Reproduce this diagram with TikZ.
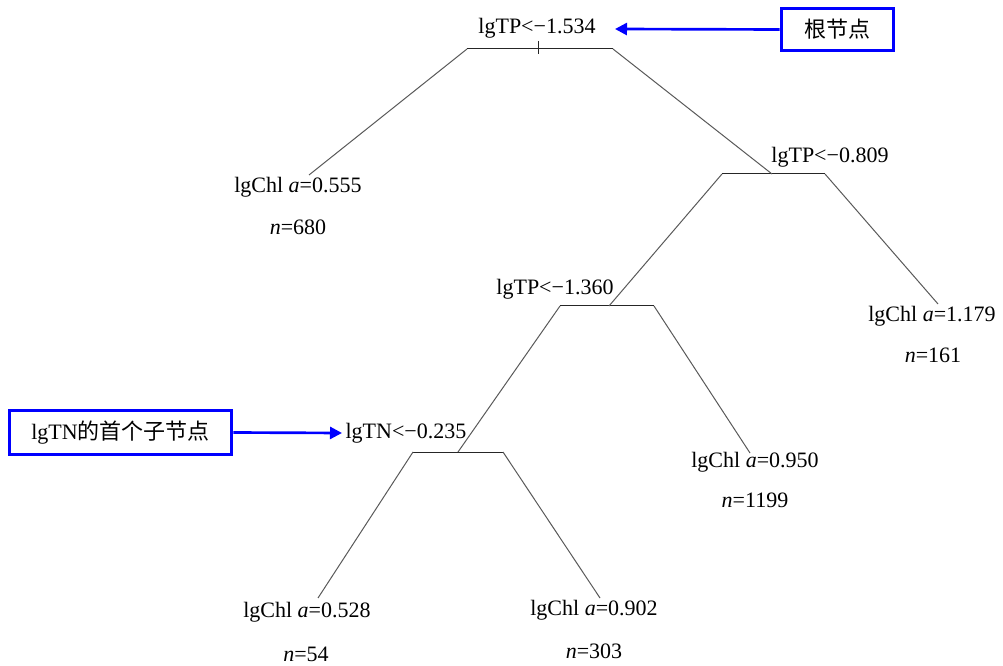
\documentclass[tikz,border=0pt]{standalone}
\usepackage{fontspec}
\setmainfont{Liberation Serif}
\newfontfamily\cjk{Noto Sans CJK SC}
\usetikzlibrary{arrows.meta}

\begin{document}
\begin{tikzpicture}[x=0.75pt,y=-0.75pt]
  \useasboundingbox (0,0) rectangle (1003,666);
  \tikzstyle{txt}=[inner sep=1pt,font=\fontsize{16.5}{19.8}\selectfont]
  \tikzstyle{branch}=[draw=black!65,line width=0.75pt]
  \tikzstyle{bar}=[draw=black!85,line width=0.75pt]
  \tikzstyle{notebox}=[draw=blue,line width=2.25pt,inner sep=0pt,font=\fontsize{16.5}{19.8}\selectfont]
  \tikzstyle{notearrow}=[draw=blue,line width=2pt,-{Triangle[length=9pt,width=9pt]}]
  % splits
  \node[txt] (S1) at (537,28) {lgTP<−1.534};
  \node[txt] (S2) at (830,157) {lgTP<−0.809};
  \node[txt] (S3) at (555,289) {lgTP<−1.360};
  \node[txt] (S4) at (406,433) {lgTN<−0.235};
  \coordinate (S1l) at (467,49);
  \coordinate (S1r) at (613,49);
  \coordinate (S1t) at (538,41);
  \coordinate (S1b) at (538,54);
  \coordinate (S2l) at (722,174);
  \coordinate (S2r) at (825,174);
  \coordinate (S2m) at (772,174);
  \coordinate (S3l) at (560,306);
  \coordinate (S3r) at (654,306);
  \coordinate (S3m) at (609,306);
  \coordinate (S4l) at (413,452);
  \coordinate (S4r) at (503,452);
  \coordinate (S4m) at (458,452);
  % leaves
  \node[txt] (L1) at (298,187) {lgChl \textit{a}=0.555};
  \node[txt] (N1) at (298,227) {\textit{n}=680};
  \node[txt] (L2) at (932,316) {lgChl \textit{a}=1.179};
  \node[txt] (N2) at (933,355) {\textit{n}=161};
  \node[txt] (L3) at (755,462) {lgChl \textit{a}=0.950};
  \node[txt] (N3) at (755,500) {\textit{n}=1199};
  \node[txt] (L4) at (307,612) {lgChl \textit{a}=0.528};
  \node[txt] (N4) at (306,654) {\textit{n}=54};
  \node[txt] (L5) at (594,610) {lgChl \textit{a}=0.902};
  \node[txt] (N5) at (594,651) {\textit{n}=303};
  \coordinate (L1t) at (309,175);
  \coordinate (L2t) at (938,304);
  \coordinate (L3t) at (750,453);
  \coordinate (L4t) at (318,598);
  \coordinate (L5t) at (600,598);
  % bars
  \draw[bar] (S1l) -- (S1r);
  \draw[bar] (S1t) -- (S1b);
  \draw[bar] (S2l) -- (S2r);
  \draw[bar] (S3l) -- (S3r);
  \draw[bar] (S4l) -- (S4r);
  % branches
  \draw[branch] (S1l) -- (L1t);
  \draw[branch] (S1r) -- (S2m);
  \draw[branch] (S2l) -- (S3m);
  \draw[branch] (S2r) -- (L2t);
  \draw[branch] (S3l) -- (S4m);
  \draw[branch] (S3r) -- (L3t);
  \draw[branch] (S4l) -- (L4t);
  \draw[branch] (S4r) -- (L5t);
  % notes
  \node[notebox,minimum width=84pt,minimum height=31pt] (K1) at (837,29.5) {\cjk 根节点};
  \node[notebox,minimum width=167pt,minimum height=32.5pt] (K2) at (120.5,432.5) {lgTN{\cjk 的首个子节点}};
  \coordinate (K1tip) at (615,29);
  \coordinate (K2tip) at (342,433);
  \draw[notearrow] (K1.west) -- (K1tip);
  \draw[notearrow] (K2.east) -- (K2tip);
\end{tikzpicture}
\end{document}
